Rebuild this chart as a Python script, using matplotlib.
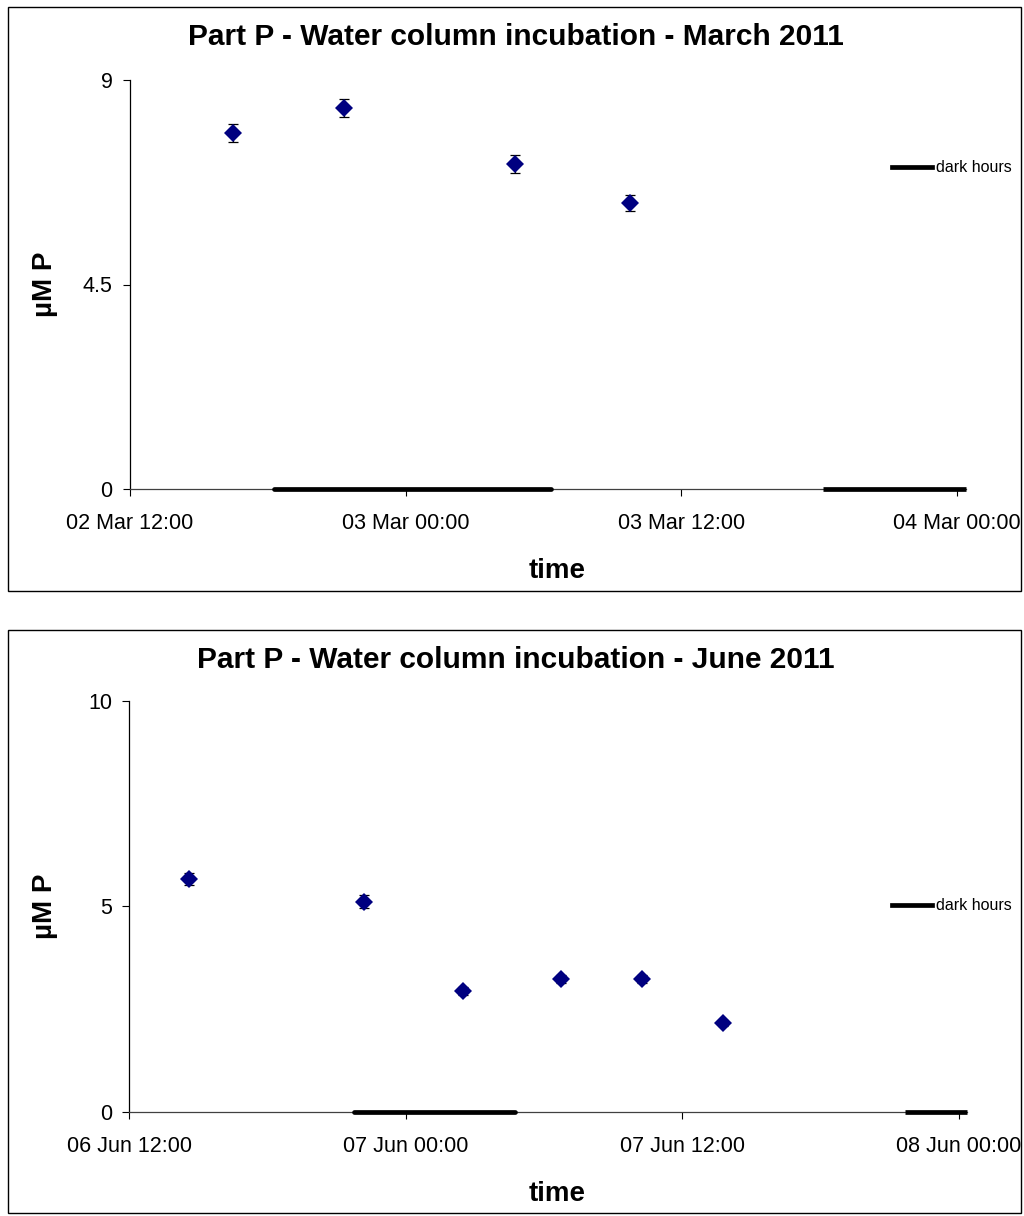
import matplotlib
matplotlib.use("Agg")
import matplotlib.pyplot as plt
import matplotlib.dates as mdates
from matplotlib.lines import Line2D
from matplotlib.patches import Rectangle
import pandas as pd

plt.rcParams["font.family"] = ["Liberation Sans", "DejaVu Sans"]

# ---- March 2011 incubation ----
march_times = ["2011-03-02 16:30", "2011-03-02 21:20", "2011-03-03 04:45", "2011-03-03 09:45"]
march_values = [7.83, 8.38, 7.15, 6.29]
march_errors = [0.20, 0.20, 0.19, 0.18]
march_dark_start = ["2011-03-02 18:15", "2011-03-03 18:10"]
march_dark_end = ["2011-03-03 06:20", "2011-03-04 06:20"]
march_xlim = ["2011-03-02 12:00", "2011-03-04 00:24"]
march_yticks = [0, 4.5, 9]
march_yticklabels = ["0", "4.5", "9"]

# ---- June 2011 incubation ----
june_times = ["2011-06-06 14:35", "2011-06-06 22:10", "2011-06-07 02:30",
              "2011-06-07 06:45", "2011-06-07 10:15", "2011-06-07 13:45"]
june_values = [5.66, 5.11, 2.95, 3.23, 3.23, 2.16]
june_errors = [0.15, 0.16, 0.10, 0.10, 0.10, 0.08]
june_dark_start = ["2011-06-06 21:45", "2011-06-07 21:40"]
june_dark_end = ["2011-06-07 04:45", "2011-06-08 04:45"]
june_xlim = ["2011-06-06 12:00", "2011-06-08 00:22"]
june_yticks = [0, 5, 10]
june_yticklabels = ["0", "5", "10"]

W, H = 1024, 1216
fig = plt.figure(figsize=(W / 100, H / 100), dpi=100)


def fx(px):
    return px / W


def fy(py):
    return 1 - py / H


panels = [
    dict(title="Part P - Water column incubation - March 2011",
         times=march_times, values=march_values, errors=march_errors,
         dark_start=march_dark_start, dark_end=march_dark_end,
         xlim=march_xlim, yticks=march_yticks, yticklabels=march_yticklabels,
         box=(7, 591), ax_px=(130, 80, 966, 489), legend_y=167.7),
    dict(title="Part P - Water column incubation - June 2011",
         times=june_times, values=june_values, errors=june_errors,
         dark_start=june_dark_start, dark_end=june_dark_end,
         xlim=june_xlim, yticks=june_yticks, yticklabels=june_yticklabels,
         box=(630, 1213), ax_px=(129.3, 700.7, 967.3, 1112), legend_y=906),
]

for p in panels:
    box_top, box_bot = p["box"]
    fig.add_artist(Rectangle((fx(8), fy(box_bot)), fx(1013), (box_bot - box_top) / H,
                             transform=fig.transFigure, fill=False,
                             edgecolor="black", linewidth=1.0))

    x0, y0, x1, y1 = p["ax_px"]
    ax = fig.add_axes([fx(x0), fy(y1), fx(x1 - x0), (y1 - y0) / H])
    ax.set_facecolor("none")

    t = pd.to_datetime(p["times"])
    xlim = pd.to_datetime(p["xlim"])
    ax.set_xlim(xlim[0], xlim[1])
    ax.set_ylim(p["yticks"][0], p["yticks"][-1])

    # dark periods drawn along the time axis, trimmed to the axis range
    for s, e in zip(pd.to_datetime(p["dark_start"]), pd.to_datetime(p["dark_end"])):
        trimmed = e > xlim[1]
        e = min(e, xlim[1])
        ax.plot([s, e], [0, 0], color="black", linewidth=3.4,
                solid_capstyle="butt" if trimmed else "round",
                clip_on=False, zorder=4)

    ax.errorbar(t, p["values"], yerr=p["errors"], fmt="none", ecolor="black",
                elinewidth=0.9, capsize=3.6, capthick=0.9, zorder=5)
    ax.plot(t, p["values"], linestyle="none", marker="D", markersize=9,
            color="#000080", markeredgewidth=0, zorder=6)

    ax.spines["top"].set_visible(False)
    ax.spines["right"].set_visible(False)
    ax.spines["left"].set_linewidth(0.9)
    ax.spines["bottom"].set_linewidth(0.9)
    ax.spines["bottom"].set_color("#404040")

    ax.set_yticks(p["yticks"])
    ax.set_yticklabels(p["yticklabels"])
    ticks = pd.date_range(xlim[0], xlim[1], freq="12h")
    ax.set_xticks(ticks)
    ax.xaxis.set_major_formatter(mdates.DateFormatter("%d %b %H:%M"))
    ax.tick_params(axis="both", direction="out", length=5, width=0.8,
                   labelsize=15.5)
    ax.tick_params(axis="x", pad=12)
    ax.tick_params(axis="y", pad=7.5)

    fig.text(fx(516), fy(box_top + 38), p["title"], ha="center", va="baseline",
             fontsize=21.5, fontweight="bold")
    fig.text(fx(557), fy(box_top + 571), "time", ha="center", va="baseline",
             fontsize=20, fontweight="bold")
    fig.text(fx(45), fy((y0 + y1) / 2), "µM P", ha="center", va="center",
             rotation=90, fontsize=20, fontweight="bold")

    handle = Line2D([], [], color="black", linewidth=3.4)
    ax.legend([handle], ["dark hours"], loc="center left",
              bbox_to_anchor=(fx(892), fy(p["legend_y"])),
              bbox_transform=fig.transFigure, frameon=False, fontsize=11.5,
              handlelength=2.5, handletextpad=0.25, borderpad=0,
              borderaxespad=0)

fig.savefig("out.png", dpi=100)
